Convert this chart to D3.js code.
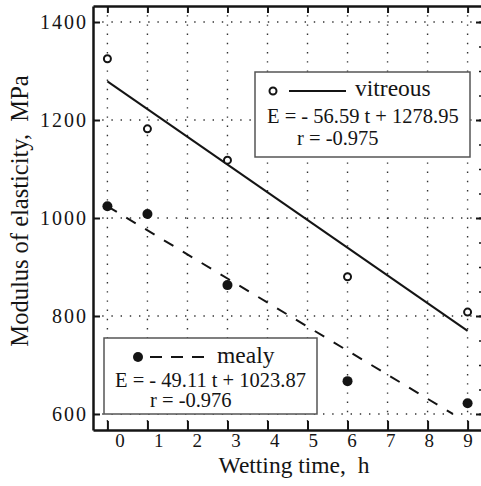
<!DOCTYPE html>
<html>
<head>
<meta charset="utf-8">
<script src="https://cdn.jsdelivr.net/npm/d3@7"></script>
<style>
    body { margin: 0; background: #fff; }
    svg { display: block; }
    text { white-space: pre; }
</style>
</head>
<body>
<svg id="drawing_region"></svg>
<script>
// wetting time (h) and modulus of elasticity (MPa)
const hours = [0, 1, 3, 6, 9];
const vitreous = [1325, 1182, 1118, 880, 808];
const mealy = [1024, 1008, 863, 667, 622];

// regression lines as printed in the legends
const vitreous_fit = [-56.59, 1278.95];
const mealy_fit = [-49.11, 1023.87];

const x_ticks = [0, 1, 2, 3, 4, 5, 6, 7, 8, 9];
const y_ticks = [600, 800, 1000, 1200, 1400];
const y_minor = d3.range(600, 1401, 50);

const vitreous_lines = ["vitreous", "E = - 56.59 t + 1278.95", "r = -0.975"];
const mealy_lines = ["mealy", "E = - 49.11 t + 1023.87", "r = -0.976"];

const ink = '#141414';
const serif = 'Liberation Serif, Times New Roman, DejaVu Serif, serif';

const svg = d3.select('#drawing_region')
    .attr('width', 481)
    .attr('height', 486)
    .attr('font-family', serif);

const plot = { left: 93, right: 484, top: 6, bottom: 430 };

const xscale = d3.scaleLinear().domain([-0.36, 9.41]).range([plot.left, plot.right]);
const yscale = d3.scaleLinear().domain([567.3, 1432.7]).range([plot.bottom, plot.top]);
// tick labels sit a little off their ticks in the original
const xlabel_scale = d3.scaleLinear().domain([0, 9]).range([120, 468]);

// dotted grid
const grid = svg.append('g')
    .attr('stroke', '#333')
    .attr('stroke-width', 1.4)
    .attr('stroke-dasharray', '1.4,7.8');
grid.selectAll('.vgrid')
    .data(x_ticks)
    .join('line')
    .attr('x1', d => xscale(d)).attr('x2', d => xscale(d))
    .attr('y1', plot.top).attr('y2', plot.bottom);
grid.selectAll('.hgrid')
    .data(y_ticks)
    .join('line')
    .attr('x1', plot.left).attr('x2', plot.right)
    .attr('y1', d => yscale(d)).attr('y2', d => yscale(d));

// axes, ticks pointing inward
const xaxis_bottom = d3.axisTop(xscale).tickValues(x_ticks).tickSize(9).tickSizeOuter(0).tickFormat('');
const xaxis_top = d3.axisBottom(xscale).tickValues(x_ticks).tickSize(7).tickSizeOuter(0).tickFormat('');
const yaxis_left = d3.axisRight(yscale).tickValues(y_ticks).tickSize(7).tickSizeOuter(0).tickFormat('');
const yaxis_right = d3.axisLeft(yscale).tickValues(y_ticks).tickSize(8).tickSizeOuter(0).tickFormat('');
const yaxis_minor = d3.axisLeft(yscale).tickValues(y_minor).tickSize(5).tickSizeOuter(0).tickFormat('');

function style_axis(g) {
    g.selectAll('path').attr('stroke', ink).attr('stroke-width', 2.5);
    g.selectAll('line').attr('stroke', ink).attr('stroke-width', 2);
}

svg.append('g').attr('transform', `translate(0, ${plot.bottom})`).call(xaxis_bottom).call(style_axis);
svg.append('g').attr('transform', `translate(0, ${plot.top})`).call(xaxis_top).call(style_axis);
svg.append('g').attr('transform', `translate(${plot.left}, 0)`).call(yaxis_left).call(style_axis);
svg.append('g').attr('transform', `translate(${plot.right}, 0)`).call(yaxis_right).call(style_axis);
svg.append('g').attr('transform', `translate(${plot.right}, 0)`).call(yaxis_minor)
    .call(g => g.selectAll('line').attr('stroke', ink).attr('stroke-width', 1.5));

// tick labels
svg.selectAll('.xlabel')
    .data(x_ticks)
    .join('text')
    .attr('x', d => xlabel_scale(d))
    .attr('y', 447)
    .attr('text-anchor', 'middle')
    .attr('font-size', 19)
    .attr('fill', ink)
    .text(d => d);

svg.selectAll('.ylabel')
    .data(y_ticks)
    .join('text')
    .attr('x', 88)
    .attr('y', d => yscale(d))
    .attr('dy', '0.34em')
    .attr('text-anchor', 'end')
    .attr('font-size', 20)
    .attr('letter-spacing', 2)
    .attr('fill', ink)
    .text(d => d);

// axis titles
svg.append('text')
    .attr('x', 294)
    .attr('y', 472.5)
    .attr('text-anchor', 'middle')
    .attr('font-size', 23.5)
    .attr('fill', ink)
    .text('Wetting time,  h');

svg.append('text')
    .attr('transform', 'translate(28, 211) rotate(-90)')
    .attr('text-anchor', 'middle')
    .attr('font-size', 24.5)
    .attr('fill', ink)
    .text('Modulus of elasticity,  MPa');

// regression lines
const line = d3.line().x(d => xscale(d[0])).y(d => yscale(d[1]));
const mealy_end = (600 - mealy_fit[1]) / mealy_fit[0];

svg.append('path')
    .datum([0, 9].map(t => [t, vitreous_fit[0] * t + vitreous_fit[1]]))
    .attr('d', line)
    .attr('fill', 'none')
    .attr('stroke', ink)
    .attr('stroke-width', 2);

svg.append('path')
    .datum([0, mealy_end].map(t => [t, mealy_fit[0] * t + mealy_fit[1]]))
    .attr('d', line)
    .attr('fill', 'none')
    .attr('stroke', ink)
    .attr('stroke-width', 2)
    .attr('stroke-dasharray', '11,11');

// points
svg.selectAll('.vitreous')
    .data(hours)
    .join('circle')
    .attr('cx', d => xscale(d))
    .attr('cy', (d, i) => yscale(vitreous[i]))
    .attr('r', 3.5)
    .attr('fill', '#fff')
    .attr('stroke', ink)
    .attr('stroke-width', 2);

svg.selectAll('.mealy')
    .data(hours)
    .join('circle')
    .attr('cx', d => xscale(d))
    .attr('cy', (d, i) => yscale(mealy[i]))
    .attr('r', 5)
    .attr('fill', ink);

// legend boxes
function legend(box, lines, opts) {
    const g = svg.append('g');
    g.append('rect')
        .attr('x', box.x).attr('y', box.y)
        .attr('width', box.w).attr('height', box.h)
        .attr('fill', '#fff')
        .attr('stroke', '#555')
        .attr('stroke-width', 1.5);
    if (opts.filled) {
        g.append('circle').attr('cx', opts.mx).attr('cy', opts.my).attr('r', 5).attr('fill', ink);
    } else {
        g.append('circle').attr('cx', opts.mx).attr('cy', opts.my).attr('r', 3.5)
            .attr('fill', '#fff').attr('stroke', ink).attr('stroke-width', 2);
    }
    g.append('line')
        .attr('x1', opts.l1).attr('x2', opts.l2)
        .attr('y1', opts.my).attr('y2', opts.my)
        .attr('stroke', ink)
        .attr('stroke-width', 2)
        .attr('stroke-dasharray', opts.dash || null);
    g.append('text')
        .attr('x', opts.tx[0]).attr('y', opts.ty[0])
        .attr('font-size', 23.5).attr('fill', ink)
        .text(lines[0]);
    g.append('text')
        .attr('x', opts.tx[1]).attr('y', opts.ty[1])
        .attr('font-size', 20.5).attr('fill', ink)
        .text(lines[1]);
    g.append('text')
        .attr('x', opts.tx[2]).attr('y', opts.ty[2])
        .attr('font-size', 20.5).attr('fill', ink)
        .text(lines[2]);
}

legend({ x: 255, y: 72, w: 215, h: 85 }, vitreous_lines,
    { filled: false, mx: 273, my: 91, l1: 289, l2: 346, tx: [355, 267, 297], ty: [96, 123, 145] });

legend({ x: 104, y: 338, w: 213, h: 76 }, mealy_lines,
    { filled: true, mx: 138, my: 357, l1: 150, l2: 206, dash: '12,9', tx: [217, 115, 150], ty: [363, 387, 407] });
</script>
</body>
</html>
